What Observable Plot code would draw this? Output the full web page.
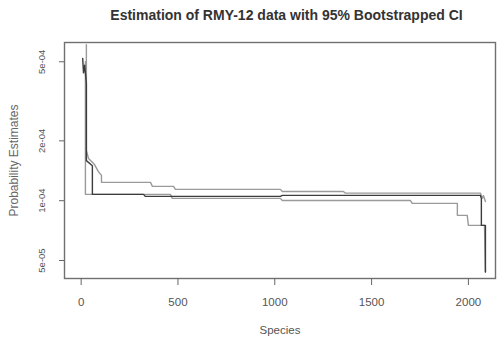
<!DOCTYPE html>
<html><head><meta charset="utf-8">
<script src="https://cdn.jsdelivr.net/npm/d3@7"></script>
<script src="https://cdn.jsdelivr.net/npm/@observablehq/plot@0.6"></script>
<style>body{margin:0;background:#fff;}</style>
</head><body><div id="chart"></div>
<script>
const title = "Estimation of RMY-12 data with 95% Bootstrapped CI";
const xLabel = "Species";
const yLabel = "Probability Estimates";
const xTicks = [0, 500, 1000, 1500, 2000];
const yTicks = [5e-5, 1e-4, 2e-4, 5e-4];
const yTickLabels = ["5e-05", "1e-04", "2e-04", "5e-04"];

// Upper 95% CI (grey)
const upperSpecies = [27, 27, 38, 69, 89, 105, 105, 358, 368, 477, 487, 1029, 1039, 1354, 1365, 2062, 2072, 2078, 2088];
const upperProb = [6.1e-4, 1.79e-4, 1.63e-4, 1.52e-4, 1.40e-4, 1.34e-4, 1.236e-4, 1.236e-4, 1.18e-4, 1.18e-4, 1.14e-4, 1.14e-4, 1.113e-4, 1.113e-4, 1.092e-4, 1.092e-4, 1.03e-4, 1.06e-4, 0.99e-4];
// Estimate (dark)
const estSpecies = [8, 12, 18, 24, 27, 27, 58, 58, 322, 332, 1029, 1039, 2062, 2067, 2067, 2088, 2088];
const estProb = [5.2e-4, 4.4e-4, 4.8e-4, 4.2e-4, 3.9e-4, 1.59e-4, 1.50e-4, 1.076e-4, 1.076e-4, 1.051e-4, 1.051e-4, 1.063e-4, 1.063e-4, 1.027e-4, 0.751e-4, 0.751e-4, 0.438e-4];
// Lower 95% CI (grey)
const lowerSpecies = [22, 22, 461, 471, 1029, 1039, 1700, 1710, 1943, 1943, 1994, 2000, 2083, 2088];
const lowerProb = [5.0e-4, 1.076e-4, 1.076e-4, 1.027e-4, 1.027e-4, 1.003e-4, 1.003e-4, 0.969e-4, 0.969e-4, 0.844e-4, 0.844e-4, 0.751e-4, 0.751e-4, 0.438e-4];

const toRows = (xs, ys) => xs.map((x, i) => ({species: x, prob: ys[i]}));
const upper = toRows(upperSpecies, upperProb);
const est = toRows(estSpecies, estProb);
const lower = toRows(lowerSpecies, lowerProb);

const chart = Plot.plot({
  width: 497, height: 339,
  marginTop: 42, marginLeft: 64, marginRight: 2, marginBottom: 61,
  style: {fontFamily: "'Liberation Sans', Arial, sans-serif", background: "#fff", color: "#555"},
  x: {domain: [-86, 2140]},
  y: {type: "log", domain: [4.06e-5, 6.25e-4]},
  marks: [
    Plot.line(upper, {x: "species", y: "prob", stroke: "#9a9a9a", strokeWidth: 1.4}),
    Plot.line(lower, {x: "species", y: "prob", stroke: "#9a9a9a", strokeWidth: 1.4}),
    Plot.line(est, {x: "species", y: "prob", stroke: "#3c3c3c", strokeWidth: 1.4}),
    Plot.frame({stroke: "#707070", strokeWidth: 1.4}),
    Plot.axisX({ticks: xTicks, tickSize: 7, tickFormat: () => "", label: null, stroke: "#666"}),
    Plot.axisY({ticks: yTicks, tickSize: 5, tickFormat: () => "", label: null, stroke: "#666"}),
    Plot.text(xTicks, {x: d => d, text: d => String(d), frameAnchor: "bottom", dy: 23.7, lineAnchor: "middle", textAnchor: "middle", fontSize: 11.5, fill: "#555"}),
    Plot.text(yTicks, {y: d => d, text: (d, i) => yTickLabels[i], frameAnchor: "left", dx: -23, rotate: -90, lineAnchor: "middle", textAnchor: "middle", fontSize: 9.5, fill: "#555"}),
    Plot.text([yLabel], {text: d => d, frameAnchor: "left", dx: -50.5, rotate: -90, lineAnchor: "middle", textAnchor: "middle", fontSize: 12, fill: "#666"}),
    Plot.text([xLabel], {text: d => d, frameAnchor: "bottom", dy: 52, lineAnchor: "middle", textAnchor: "middle", fontSize: 11.5, fill: "#555"}),
    Plot.text([title], {text: d => d, frameAnchor: "top-left", dx: 222, dy: -27, lineAnchor: "middle", textAnchor: "middle", fontSize: 14, fontWeight: "bold", fill: "#333"})
  ]
});
document.getElementById("chart").append(chart);
</script>
</body></html>
